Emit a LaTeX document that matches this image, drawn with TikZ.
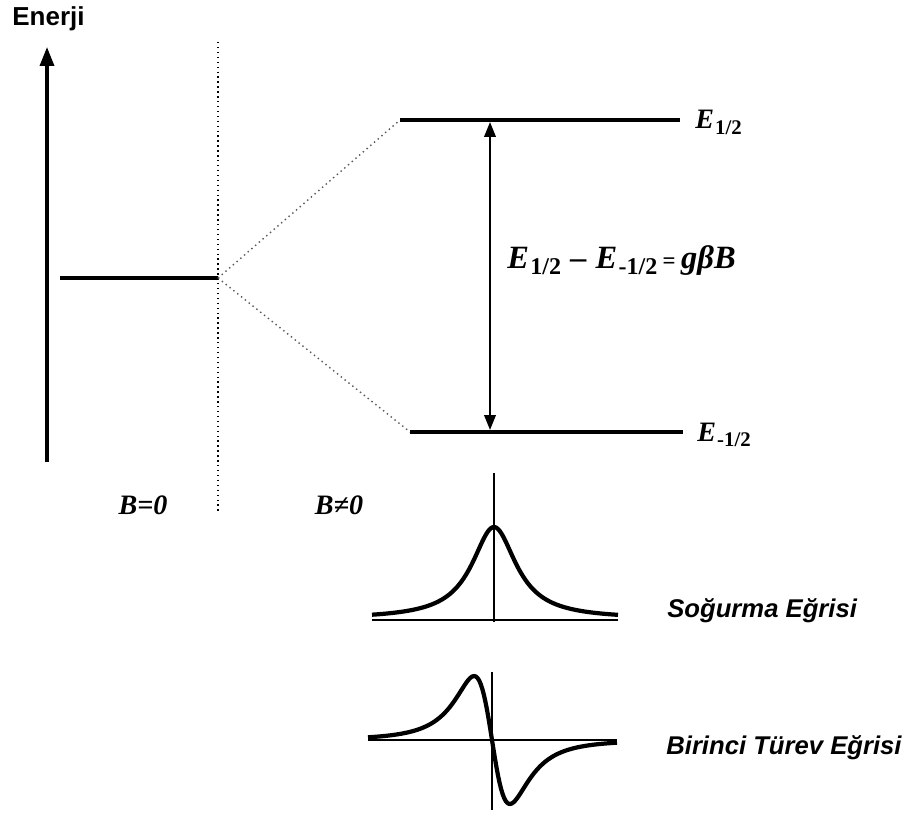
\documentclass[tikz,border=0pt]{standalone}
\usepackage{fontspec}
\setmainfont{Liberation Serif}
\newfontfamily\labelsans{Liberation Sans}
\usetikzlibrary{arrows.meta}

\newcommand{\enlvl}[1]{\textbf{\textit{E}}\kern0.04em\raisebox{-0.45ex}{\fontsize{0.74em}{1em}\selectfont\bfseries #1}}

\begin{document}
\begin{tikzpicture}[x=0.02cm, y=-0.02cm,
  lvl/.style={line width=2pt},
  guide/.style={dotted, line width=0.8pt},
  arr/.style={-{Triangle[length=3.8mm, width=2.8mm]}, line width=1.9pt},
  darr/.style={{Triangle[length=3mm, width=2.3mm]}-{Triangle[length=3mm, width=2.3mm]}, line width=1.3pt},
  axis/.style={line width=1.3pt},
  curve/.style={line width=2.4pt, line join=round},
  sans/.style={font=\labelsans\bfseries\itshape\fontsize{14.6}{17}\selectfont, anchor=base west, inner sep=0pt},
  elbl/.style={font=\fontsize{16}{19}\selectfont, anchor=base west, inner sep=0pt},
  blbl/.style={font=\bfseries\itshape\fontsize{16}{19}\selectfont}
]
\useasboundingbox (0,0) rectangle (911,817);

\node[font=\labelsans\bfseries\fontsize{14.8}{17}\selectfont, anchor=base west, inner sep=0pt] (enerji) at (12,26) {Enerji};
\coordinate (ebot) at (47,462);
\coordinate (etop) at (47,47);
\draw[arr] (ebot) -- (etop);

\coordinate (sep1) at (218,42);
\coordinate (sep2) at (218,513);
\draw[guide] (sep1) -- (sep2);

\coordinate (zero0) at (60,278);
\coordinate (zero1) at (218,278);
\coordinate (up0) at (400,120);
\coordinate (up1) at (680,120);
\coordinate (low0) at (410,432);
\coordinate (low1) at (683,432);
\draw[lvl] (zero0) -- (zero1);
\draw[lvl] (up0) -- (up1);
\draw[lvl] (low0) -- (low1);
\draw[guide, black!65] (zero1) -- (up0);
\draw[guide, black!65] (zero1) -- (low0);

\node[elbl] (eup) at (695,129) {\enlvl{1/2}};
\node[elbl] (elow) at (697,441) {\enlvl{-1/2}};

\coordinate (gap1) at (490,122);
\coordinate (gap2) at (490,430);
\draw[darr] (gap1) -- (gap2);
\node[font=\fontsize{18.5}{21}\selectfont, anchor=base west, inner sep=0pt] (split) at (507,268)
  {\enlvl{1/2}\;\textbf{–}\;\enlvl{-1/2}\,{\fontsize{13}{15}\selectfont\textbf{=}}\,\textbf{\textit{gβB}}};

\node[blbl] (bzero) at (143,505) {B=0};
\node[blbl] (bfield) at (339,505) {B≠0};

\coordinate (abs0) at (372,620);
\coordinate (abs1) at (618,620);
\coordinate (abs2) at (494,473);
\coordinate (abs3) at (494,622);
\draw[axis] (abs0) -- (abs1);
\draw[axis] (abs2) -- (abs3);
\draw[curve] plot[domain=372:618, samples=140] (\x, {619-92/(1+((\x-494)/27)^2)});
\node[sans] (soglbl) at (667,617) {Soğurma Eğrisi};

\coordinate (der0) at (368,740);
\coordinate (der1) at (617,740);
\coordinate (der2) at (492,672);
\coordinate (der3) at (492,810);
\draw[axis] (der0) -- (der1);
\draw[axis] (der2) -- (der3);
\draw[curve] plot[domain=368:617, samples=160] (\x, {740+197*((\x-492)/31)/(1+((\x-492)/31)^2)^2});
\node[sans] (turlbl) at (666,754) {Birinci Türev Eğrisi};
\end{tikzpicture}
\end{document}
